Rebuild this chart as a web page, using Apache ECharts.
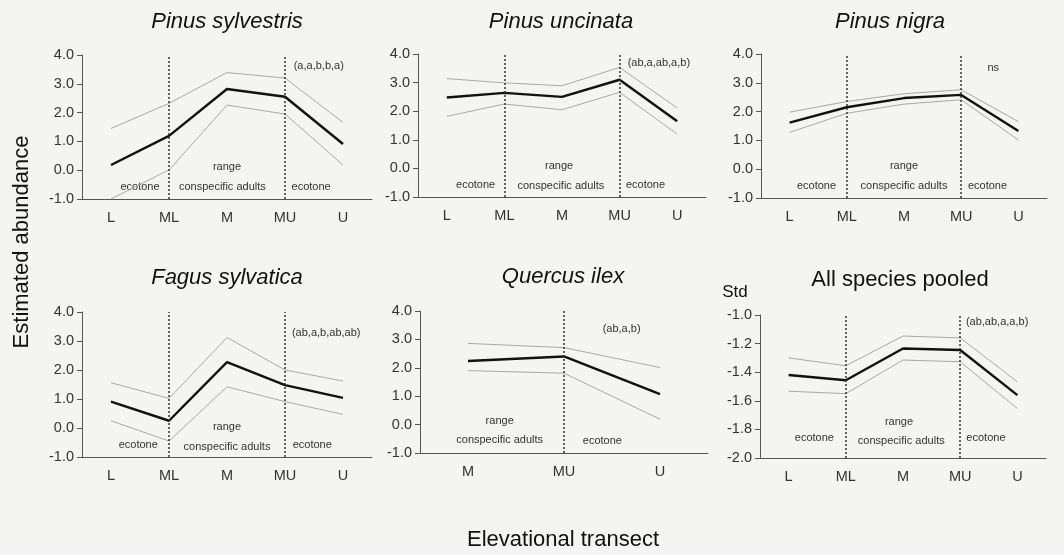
<!DOCTYPE html>
<html>
<head>
<meta charset="utf-8">
<script src="https://cdn.jsdelivr.net/npm/echarts@6/dist/echarts.min.js"></script>
<style>
html,body{margin:0;padding:0;background:#f4f4f3;}
#main{width:1064px;height:555px;}
</style>
</head>
<body>
<div id="main"></div>
<script>
// ---------- data ----------
const categories5 = ['L', 'ML', 'M', 'MU', 'U'];
const categories3 = ['M', 'MU', 'U'];

const sylvestrisMean  = [0.18, 1.19, 2.82, 2.55, 0.91];
const sylvestrisUpper = [1.45, 2.32, 3.39, 3.20, 1.66];
const sylvestrisLower = [-1.00, 0.01, 2.26, 1.95, 0.18];

const uncinataMean  = [2.48, 2.64, 2.50, 3.10, 1.65];
const uncinataUpper = [3.14, 2.99, 2.89, 3.53, 2.11];
const uncinataLower = [1.82, 2.25, 2.05, 2.66, 1.20];

const nigraMean  = [1.62, 2.15, 2.47, 2.58, 1.33];
const nigraUpper = [1.98, 2.35, 2.62, 2.76, 1.65];
const nigraLower = [1.28, 1.94, 2.26, 2.41, 1.01];

const fagusMean  = [0.91, 0.25, 2.27, 1.48, 1.04];
const fagusUpper = [1.56, 1.02, 3.12, 2.00, 1.62];
const fagusLower = [0.25, -0.45, 1.42, 0.91, 0.47];

const ilexMean  = [2.24, 2.40, 1.07];
const ilexUpper = [2.86, 2.71, 2.01];
const ilexLower = [1.90, 1.81, 0.19];

const pooledMean  = [-1.420, -1.456, -1.234, -1.245, -1.560];
const pooledUpper = [-1.300, -1.355, -1.147, -1.160, -1.467];
const pooledLower = [-1.533, -1.550, -1.315, -1.327, -1.654];

const panelTitles = ['Pinus sylvestris', 'Pinus uncinata', 'Pinus nigra', 'Fagus sylvatica', 'Quercus ilex', 'All species pooled'];
const significance = ['(a,a,b,b,a)', '(ab,a,ab,a,b)', 'ns', '(ab,a,b,ab,ab)', '(ab,a,b)', '(ab,ab,a,a,b)'];
const yAxisTitle = 'Estimated abundance';
const xAxisTitle = 'Elevational transect';
const stdLabel = 'Std';

// ---------- layout / config ----------
const FONT = '"Liberation Sans", Arial, Helvetica, sans-serif';
const panels = [
  { cats: categories5, mean: sylvestrisMean, upper: sylvestrisUpper, lower: sylvestrisLower,
    yMin: -1, yMax: 4, yInt: 1, lines: ['ML', 'MU'], italic: true,
    grid: { left: 82, top: 55, width: 290, height: 144 }, titleXY: [227, 22],
    notes: [['ecotone', 0.5, 'b', 12, 'center'], ['range', 2, 'b', 32, 'center'], ['conspecific adults', 1.92, 'b', 12, 'center'], ['ecotone', 3.45, 'b', 12, 'center'], [significance[0], 3.15, 't', 11, 'left']] },
  { cats: categories5, mean: uncinataMean, upper: uncinataUpper, lower: uncinataLower,
    yMin: -1, yMax: 4, yInt: 1, lines: ['ML', 'MU'], italic: true,
    grid: { left: 418, top: 54, width: 288, height: 143 }, titleXY: [561, 22],
    notes: [['ecotone', 0.5, 'b', 12, 'center'], ['range', 1.95, 'b', 31, 'center'], ['conspecific adults', 1.98, 'b', 11, 'center'], ['ecotone', 3.45, 'b', 12, 'center'], [significance[1], 3.14, 't', 9, 'left']] },
  { cats: categories5, mean: nigraMean, upper: nigraUpper, lower: nigraLower,
    yMin: -1, yMax: 4, yInt: 1, lines: ['ML', 'MU'], italic: true,
    grid: { left: 761, top: 54, width: 286, height: 144 }, titleXY: [890, 22],
    notes: [['ecotone', 0.47, 'b', 12, 'center'], ['range', 2, 'b', 32, 'center'], ['conspecific adults', 2, 'b', 12, 'center'], ['ecotone', 3.46, 'b', 12, 'center'], [significance[2], 3.56, 't', 14, 'center']] },
  { cats: categories5, mean: fagusMean, upper: fagusUpper, lower: fagusLower,
    yMin: -1, yMax: 4, yInt: 1, lines: ['ML', 'MU'], italic: true,
    grid: { left: 82, top: 312, width: 290, height: 145 }, titleXY: [227, 278],
    notes: [['ecotone', 0.47, 'b', 12, 'center'], ['range', 2, 'b', 30, 'center'], ['conspecific adults', 2, 'b', 10, 'center'], ['ecotone', 3.47, 'b', 12, 'center'], [significance[3], 3.12, 't', 21, 'left']] },
  { cats: categories3, mean: ilexMean, upper: ilexUpper, lower: ilexLower,
    yMin: -1, yMax: 4, yInt: 1, lines: ['MU'], italic: true,
    grid: { left: 420, top: 311, width: 288, height: 142 }, titleXY: [563, 277],
    notes: [['range', 0.33, 'b', 32, 'center'], ['conspecific adults', 0.33, 'b', 13, 'center'], ['ecotone', 1.4, 'b', 12, 'center'], [significance[4], 1.6, 't', 18, 'center']] },
  { cats: categories5, mean: pooledMean, upper: pooledUpper, lower: pooledLower,
    yMin: -2, yMax: -1, yInt: 0.2, lines: ['ML', 'MU'], italic: false,
    grid: { left: 760, top: 315, width: 286, height: 143 }, titleXY: [900, 280],
    notes: [['ecotone', 0.45, 'b', 20, 'center'], ['range', 1.93, 'b', 36, 'center'], ['conspecific adults', 1.97, 'b', 17, 'center'], ['ecotone', 3.45, 'b', 20, 'center'], [significance[5], 3.1, 't', 7, 'left']] }
];

const AXIS_COLOR = '#555';
const option = {
  backgroundColor: '#f4f4f3',
  animation: false,
  grid: panels.map(p => Object.assign({}, p.grid)),
  xAxis: panels.map((p, i) => ({
    type: 'category', gridIndex: i, data: p.cats, boundaryGap: true,
    axisLine: { onZero: false, lineStyle: { color: AXIS_COLOR, width: 1 } },
    axisTick: { alignWithLabel: true, length: 5, lineStyle: { color: AXIS_COLOR } },
    axisLabel: { color: '#333', fontSize: 14.5, margin: 11, fontFamily: FONT },
    splitLine: { show: false }
  })),
  yAxis: panels.map((p, i) => ({
    type: 'value', gridIndex: i, min: p.yMin, max: p.yMax, interval: p.yInt,
    axisLine: { show: true, onZero: false, lineStyle: { color: AXIS_COLOR, width: 1 } },
    axisTick: { show: true, length: 5, lineStyle: { color: AXIS_COLOR } },
    axisLabel: { color: '#333', fontSize: 14.5, margin: 8, fontFamily: FONT, formatter: v => v.toFixed(1) },
    splitLine: { show: false }
  })),
  series: []
};
panels.forEach((p, i) => {
  ['upper', 'lower'].forEach(k => option.series.push({
    type: 'line', xAxisIndex: i, yAxisIndex: i, data: p[k], symbol: 'none', silent: true,
    lineStyle: { color: '#a8a8a8', width: 1 }, z: 2
  }));
  option.series.push({
    type: 'line', xAxisIndex: i, yAxisIndex: i, data: p.mean, symbol: 'none', silent: true,
    lineStyle: { color: '#111', width: 2.4 }, z: 3,
    markLine: {
      silent: true, symbol: ['none', 'none'], label: { show: false },
      lineStyle: { type: [2, 2], color: '#333', width: 1.5 },
      data: p.lines.map(c => ({ xAxis: c }))
    }
  });
});

const chart = echarts.init(document.getElementById('main'));
chart.setOption(option);

// ---------- text annotations positioned through the axes ----------
const graphics = [];
panels.forEach((p, i) => {
  graphics.push({ type: 'text', x: p.titleXY[0], y: p.titleXY[1], silent: true,
    style: { text: panelTitles[i], font: (p.italic ? 'italic ' : '') + '22px ' + FONT, fill: '#111', textAlign: 'center', textVerticalAlign: 'middle' } });
  const x0 = chart.convertToPixel({ xAxisIndex: i }, 0);
  const x1 = chart.convertToPixel({ xAxisIndex: i }, 1);
  const band = x1 - x0;
  const yBottom = chart.convertToPixel({ yAxisIndex: i }, p.yMin);
  const yTop = chart.convertToPixel({ yAxisIndex: i }, p.yMax);
  p.notes.forEach(n => {
    const x = x0 + n[1] * band;
    const y = n[2] === 'b' ? yBottom - n[3] : yTop + n[3];
    graphics.push({ type: 'text', x: x, y: y, silent: true,
      style: { text: n[0], font: '11px ' + FONT, fill: '#333', textAlign: n[4], textVerticalAlign: 'middle' } });
  });
});
graphics.push({ type: 'text', x: 735, y: 292, silent: true,
  style: { text: stdLabel, font: '17px ' + FONT, fill: '#111', textAlign: 'center', textVerticalAlign: 'middle' } });
graphics.push({ type: 'text', x: 22, y: 242, rotation: Math.PI / 2, silent: true,
  style: { text: yAxisTitle, font: '22px ' + FONT, fill: '#111', textAlign: 'center', textVerticalAlign: 'middle' } });
graphics.push({ type: 'text', x: 563, y: 540, silent: true,
  style: { text: xAxisTitle, font: '22px ' + FONT, fill: '#111', textAlign: 'center', textVerticalAlign: 'middle' } });
chart.setOption({ graphic: graphics });
</script>
</body>
</html>
